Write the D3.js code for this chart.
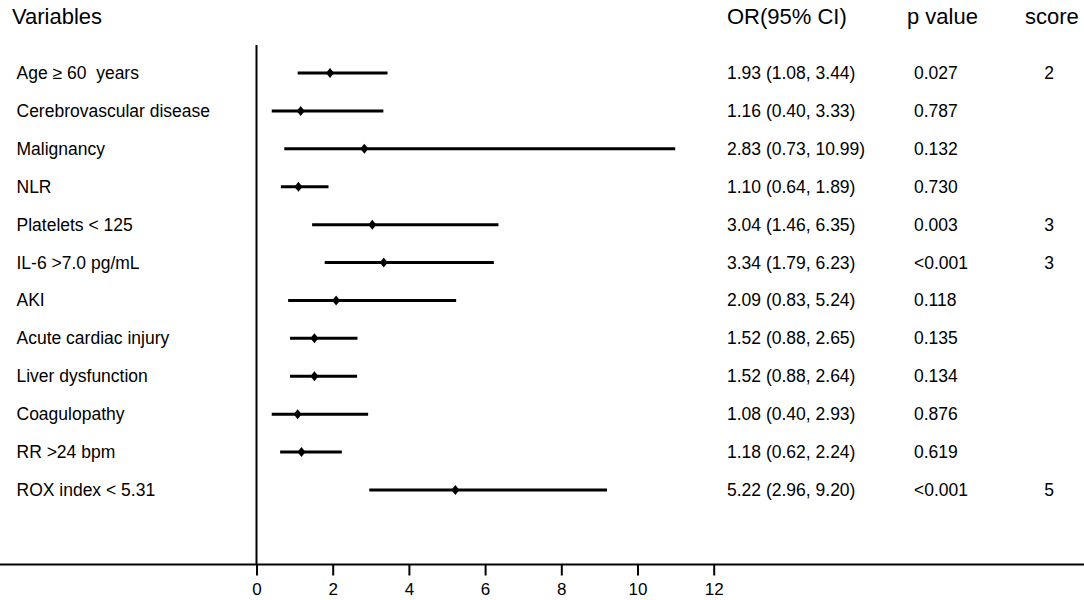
<!DOCTYPE html>
<html>
<head>
<meta charset="utf-8">
<script src="https://cdn.jsdelivr.net/npm/d3@7"></script>
<style>
  body { margin: 0; background: #fff; }
  text { font-family: "Liberation Sans", Arial, sans-serif; fill: #000; white-space: pre; }
</style>
</head>
<body>
<script>
// chart values
var variables = ["Age \u2265 60  years", "Cerebrovascular disease", "Malignancy", "NLR", "Platelets < 125",
                 "IL-6 >7.0 pg/mL", "AKI", "Acute cardiac injury", "Liver dysfunction", "Coagulopathy",
                 "RR >24 bpm", "ROX index < 5.31"];
var oddsRatio = [1.93, 1.16, 2.83, 1.10, 3.04, 3.34, 2.09, 1.52, 1.52, 1.08, 1.18, 5.22];
var ciLow     = [1.08, 0.40, 0.73, 0.64, 1.46, 1.79, 0.83, 0.88, 0.88, 0.40, 0.62, 2.96];
var ciHigh    = [3.44, 3.33, 10.99, 1.89, 6.35, 6.23, 5.24, 2.65, 2.64, 2.93, 2.24, 9.20];
var pValues   = ["0.027", "0.787", "0.132", "0.730", "0.003", "<0.001", "0.118", "0.135", "0.134", "0.876", "0.619", "<0.001"];
var scores    = ["2", "", "", "", "3", "3", "", "", "", "", "", "5"];
var xTicks    = [0, 2, 4, 6, 8, 10, 12];

var width = 1084;
var height = 600;
var axisY = 564.5;

var svg = d3.select("body")
            .append("svg")
            .attr("width", width)
            .attr("height", height);

var x = d3.scaleLinear()
          .domain([0, 12])
          .range([256.5, 713.7]);

var y = d3.scalePoint()
          .domain(d3.range(variables.length))
          .range([73, 490]);

// headers
var headers = [["Variables", 12], ["OR(95% CI)", 727], ["p value", 907], ["score", 1025]];
svg.selectAll(".header")
   .data(headers)
   .enter().append("text")
   .attr("class", "header")
   .attr("x", function(d) { return d[1]; })
   .attr("y", 24)
   .style("font-size", "22px")
   .text(function(d) { return d[0]; });

// x axis
var xAxis = d3.axisBottom(x)
              .tickValues(xTicks)
              .tickSize(11)
              .tickPadding(7)
              .tickFormat(d3.format("d"));

var axisG = svg.append("g")
               .attr("transform", "translate(0," + axisY + ")")
               .call(xAxis);
axisG.select(".domain").remove();
axisG.selectAll(".tick line").attr("stroke", "#000").attr("stroke-width", 2);
axisG.selectAll(".tick text")
     .style("font-size", "17px");

svg.append("line")
   .attr("x1", 0).attr("x2", width)
   .attr("y1", axisY).attr("y2", axisY)
   .attr("stroke", "#000")
   .attr("stroke-width", 2);

// reference line at 0
svg.append("line")
   .attr("x1", x(0)).attr("x2", x(0))
   .attr("y1", 45).attr("y2", axisY)
   .attr("stroke", "#000")
   .attr("stroke-width", 2);

var rows = d3.range(variables.length);

// labels
svg.selectAll(".label")
   .data(rows)
   .enter().append("text")
   .attr("class", "label")
   .attr("x", 16.5)
   .attr("y", function(i) { return y(i) + 6; })
   .style("font-size", "17.5px")
   .text(function(i) { return variables[i]; });

// CI lines
svg.selectAll(".ci")
   .data(rows)
   .enter().append("line")
   .attr("class", "ci")
   .attr("x1", function(i) { return x(ciLow[i]); })
   .attr("x2", function(i) { return x(ciHigh[i]); })
   .attr("y1", function(i) { return y(i); })
   .attr("y2", function(i) { return y(i); })
   .attr("stroke", "#000")
   .attr("stroke-width", 3);

// diamonds
svg.selectAll(".pt")
   .data(rows)
   .enter().append("path")
   .attr("class", "pt")
   .attr("d", function(i) {
       var cx = x(oddsRatio[i]), cy = y(i);
       return "M" + cx + "," + (cy - 5) + "L" + (cx + 4) + "," + cy +
              "L" + cx + "," + (cy + 5) + "L" + (cx - 4) + "," + cy + "Z";
   })
   .attr("fill", "#000");

// OR text
svg.selectAll(".ortext")
   .data(rows)
   .enter().append("text")
   .attr("class", "ortext")
   .attr("x", 727)
   .attr("y", function(i) { return y(i) + 6; })
   .style("font-size", "17.5px")
   .text(function(i) {
       return oddsRatio[i].toFixed(2) + " (" + ciLow[i].toFixed(2) + ", " + ciHigh[i].toFixed(2) + ")";
   });

// p values
svg.selectAll(".ptext")
   .data(rows)
   .enter().append("text")
   .attr("class", "ptext")
   .attr("x", 914)
   .attr("y", function(i) { return y(i) + 6; })
   .style("font-size", "17.5px")
   .text(function(i) { return pValues[i]; });

// scores
svg.selectAll(".stext")
   .data(rows)
   .enter().append("text")
   .attr("class", "stext")
   .attr("x", 1049)
   .attr("y", function(i) { return y(i) + 6; })
   .attr("text-anchor", "middle")
   .style("font-size", "17.5px")
   .text(function(i) { return scores[i]; });
</script>
</body>
</html>
